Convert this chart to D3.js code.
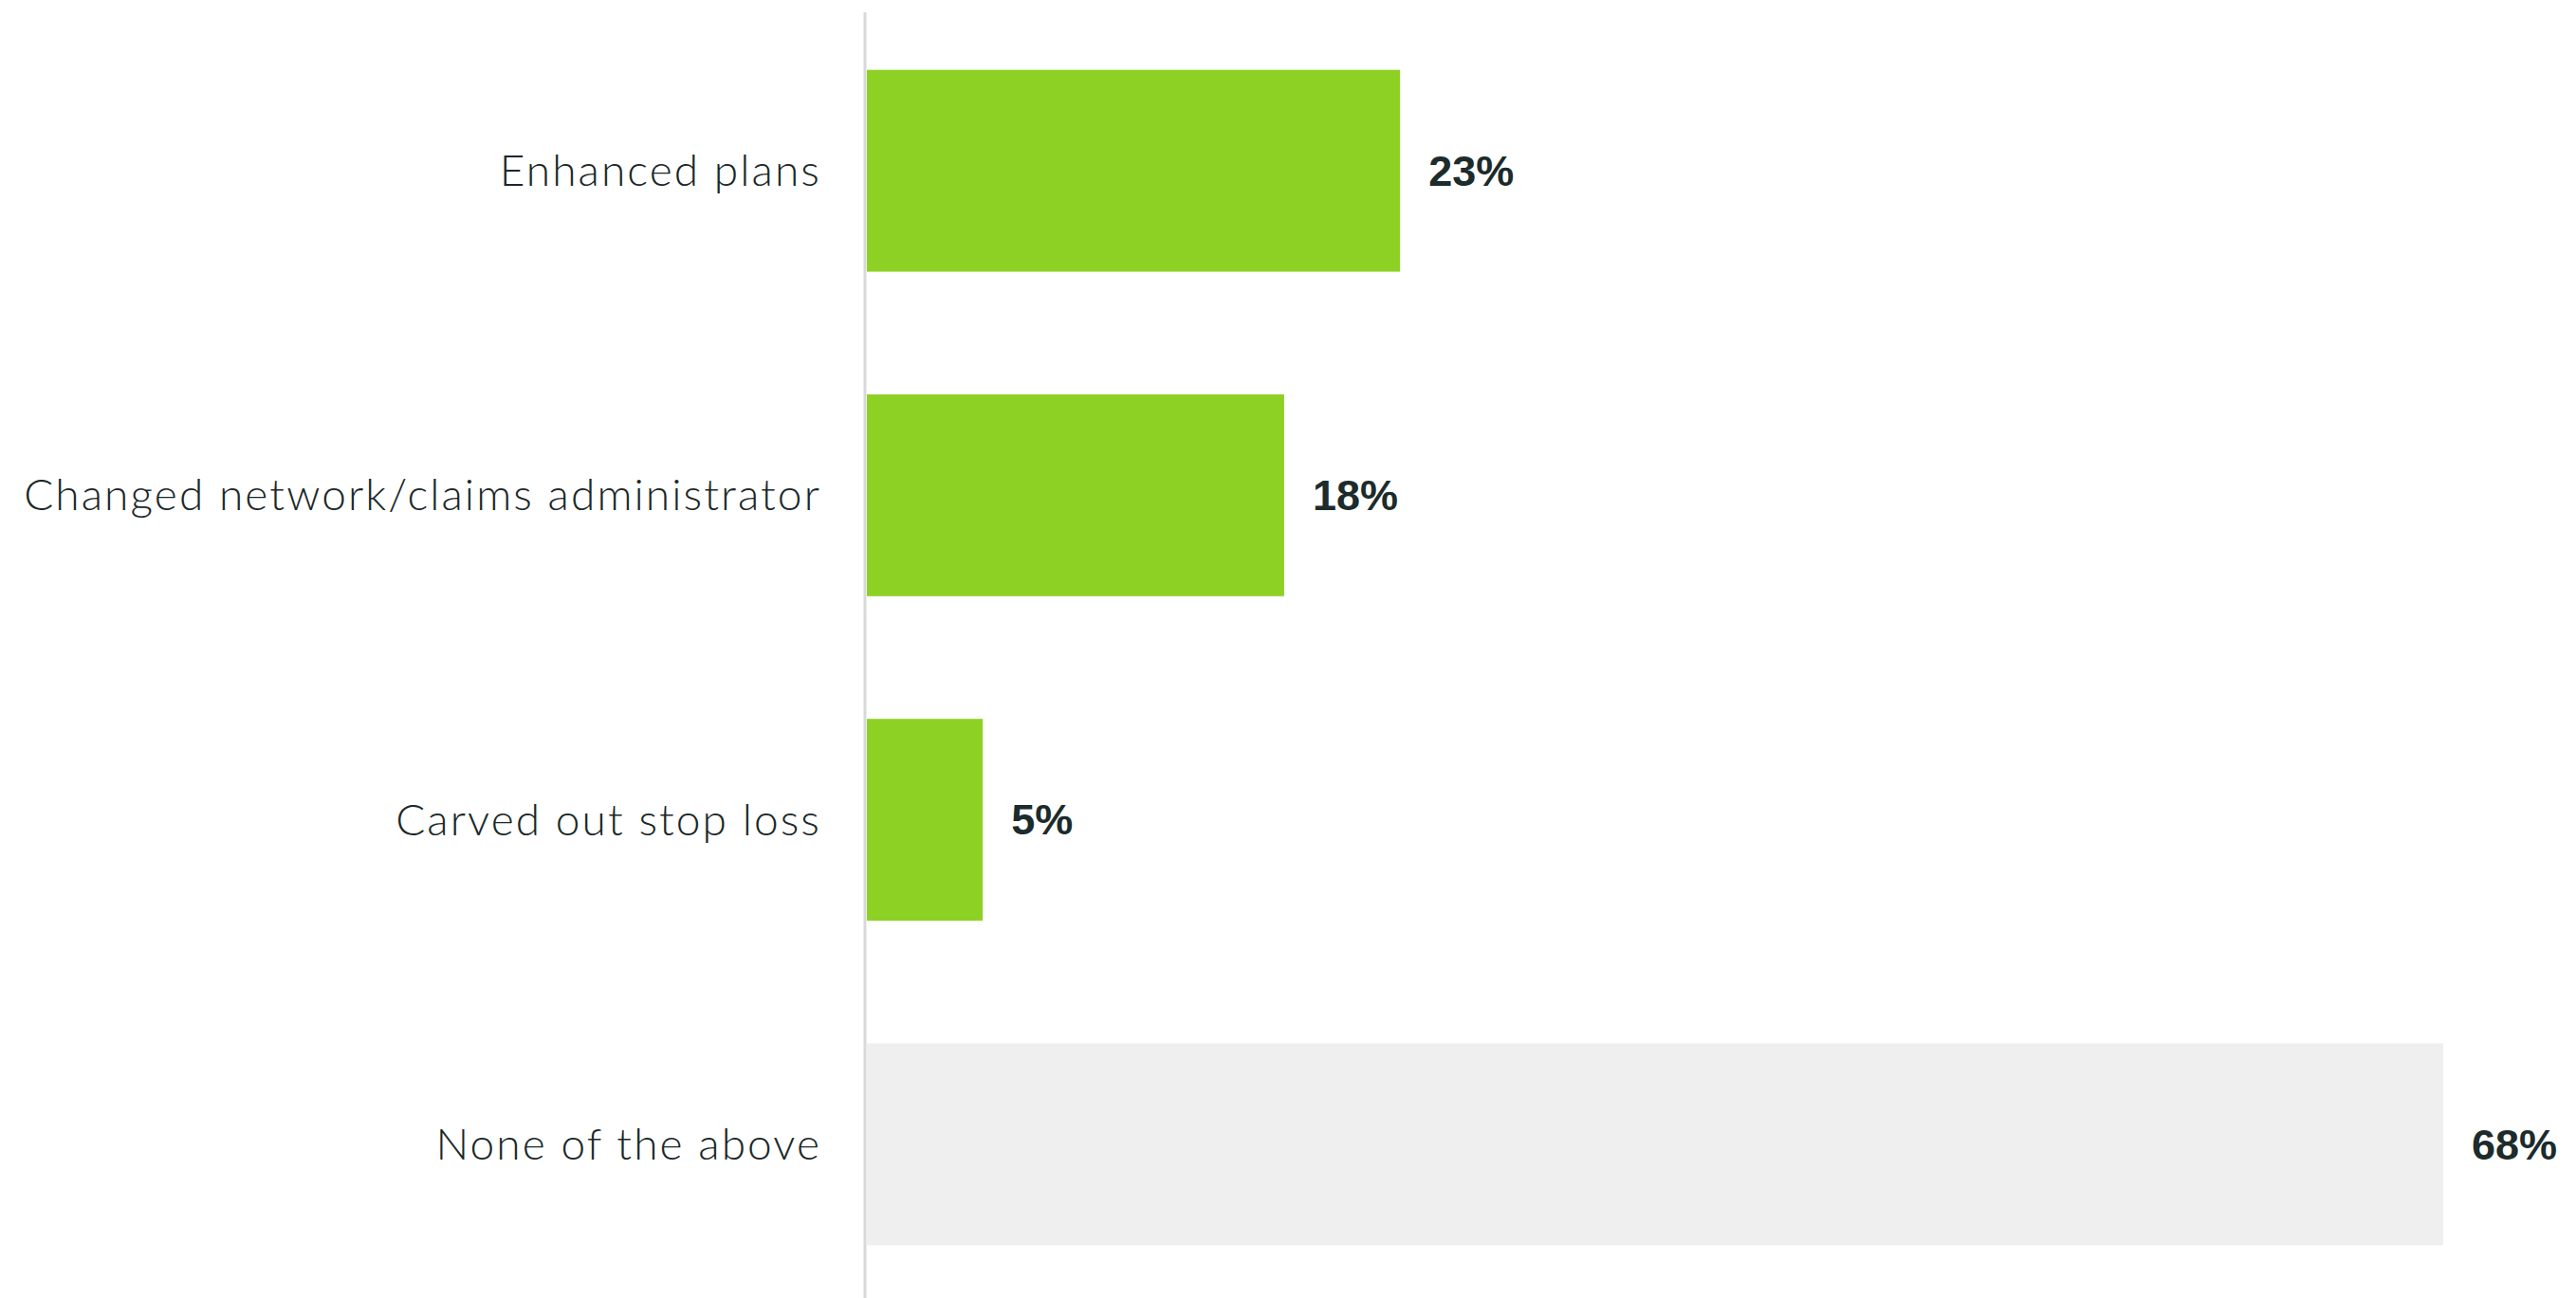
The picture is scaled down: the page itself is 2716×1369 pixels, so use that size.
<!DOCTYPE html>
<html>
<head>
<meta charset="utf-8">
<script src="https://cdn.jsdelivr.net/npm/d3@7/dist/d3.min.js"></script>
<style>
  html, body { margin: 0; padding: 0; background: #ffffff; }
  svg { display: block; }
</style>
</head>
<body>
<svg id="chart" width="2716" height="1369"></svg>
<script>
// Survey responses: share of employers taking each action
const categories = [
  "Enhanced plans",
  "Changed network/claims administrator",
  "Carved out stop loss",
  "None of the above"
];
const values = [23, 18, 5, 68];
const barColors = ["#8ed125", "#8ed125", "#8ed125", "#efefef"];

const width = 2716, height = 1369;
const svg = d3.select("#chart");

const x = d3.scaleLinear()
  .domain([0, d3.max(values)])
  .range([914, 2576]);

const y = d3.scaleBand()
  .domain(categories)
  .range([9, 1378])
  .paddingInner(0.378)
  .paddingOuter(0.189);

const rows = categories.map((c, i) => ({ cat: c, val: values[i], color: barColors[i] }));

// Bars
svg.append("g")
  .selectAll("rect")
  .data(rows)
  .join("rect")
  .attr("x", x(0))
  .attr("y", d => y(d.cat))
  .attr("width", d => x(d.val) - x(0))
  .attr("height", y.bandwidth())
  .attr("fill", d => d.color);

// Category axis on the left
const axis = svg.append("g")
  .attr("transform", `translate(${x(0) - 2},0)`)
  .call(d3.axisLeft(y).tickSize(0).tickPadding(46));
axis.select(".domain").remove();
axis.append("line")
  .attr("x1", 0).attr("x2", 0)
  .attr("y1", 13).attr("y2", height)
  .attr("stroke", "#d9d9d9")
  .attr("stroke-width", 3);
axis.selectAll(".tick text")
  .attr("font-family", "Lato, 'Open Sans', sans-serif")
  .attr("font-size", 46)
  .attr("font-weight", 300)
  .attr("letter-spacing", 2.1)
  .attr("fill", "#1a2828")
  .attr("dy", "0.35em");

// Value labels
svg.append("g")
  .selectAll("text")
  .data(rows)
  .join("text")
  .attr("x", d => x(d.val) + 30)
  .attr("y", d => y(d.cat) + y.bandwidth() / 2)
  .attr("dy", "0.35em")
  .attr("font-family", "'Liberation Sans', Arial, sans-serif")
  .attr("font-weight", 700)
  .attr("font-size", 45)
  .attr("fill", "#1c2b2b")
  .text(d => d.val + "%");
</script>
</body>
</html>
